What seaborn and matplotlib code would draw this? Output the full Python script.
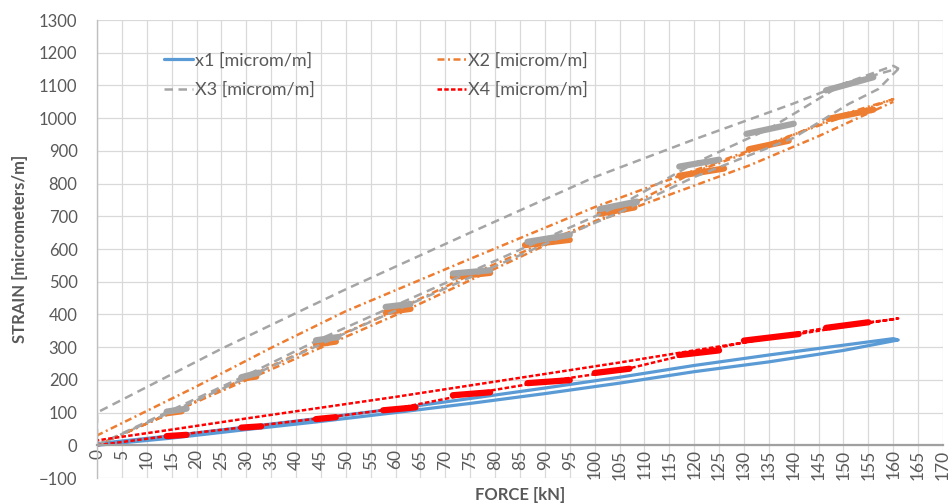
import numpy as np
import pandas as pd
import seaborn as sns
from matplotlib import pyplot as plt

# ---- data ----
series_names = ['x1 [microm/m]', 'X2 [microm/m]', 'X3 [microm/m]', 'X4 [microm/m]']

# x1: loading then unloading loop
x1_force = [0, 15, 30, 45, 60, 75, 90, 105, 120, 135, 150, 161,
            160, 150, 135, 120, 105, 90, 75, 60, 45, 30, 15, 0]
x1_strain = [0, 22, 48, 73, 100, 128, 158, 190, 225, 255, 290, 322,
             326, 306, 276, 244, 208, 175, 143, 112, 83, 56, 29, 5]

# X2: stepwise loading, unloading, fast reload
x2_force = [0, 15, 30, 45, 60, 75, 90, 105, 120, 135, 150, 160,
            140, 120, 100, 75, 50, 35, 20, 10, 0,
            0, 60, 100, 131, 145, 160]
x2_strain = [0, 100, 207, 312, 412, 521, 620, 717, 835, 918, 1012, 1058,
             950, 840, 728, 570, 410, 298, 180, 105, 30,
             0, 398, 682, 855, 945, 1050]

# X3
x3_force = [0, 15, 30, 45, 60, 75, 90, 105, 120, 135, 150, 160,
            161, 150, 140, 120, 100, 75, 50, 25, 0,
            0, 60, 90, 105, 120, 140, 151, 157, 161]
x3_strain = [0, 108, 214, 326, 428, 530, 632, 733, 862, 967, 1105, 1160,
             1152, 1105, 1045, 935, 820, 650, 477, 295, 100,
             0, 412, 615, 712, 820, 940, 1043, 1089, 1150]

# X4
x4_force = [0, 15, 30, 45, 60, 75, 90, 105, 120, 135, 150, 160,
            161, 150, 135, 120, 105, 90, 75, 60, 45, 30, 15, 0]
x4_strain = [0, 30, 56, 83, 112, 157, 195, 228, 283, 330, 367, 385,
             388, 362, 326, 290, 253, 218, 183, 148, 115, 82, 48, 15]

# scatter clouds while the load is held (start/end of each cloud)
x2_hold_f0 = [14, 29, 44, 58, 71.5, 86, 101, 117, 131, 147]
x2_hold_f1 = [17, 32, 48, 63, 79, 95, 108, 126, 139, 156]
x2_hold_s0 = [98, 204, 308, 407, 515, 612, 708, 824, 905, 998]
x2_hold_s1 = [104, 210, 317, 417, 527, 628, 727, 846, 931, 1026]

x3_hold_f0 = [14, 29, 44, 58, 71.5, 86.5, 101, 117, 130.5, 146.5]
x3_hold_f1 = [18, 32.5, 48.5, 63, 79, 95, 108.5, 125, 140, 156]
x3_hold_s0 = [103, 208, 321, 423, 525, 622, 722, 852, 952, 1085]
x3_hold_s1 = [112, 222, 331, 432, 535, 643, 745, 873, 983, 1125]

x4_hold_f0 = [14, 29, 44, 57.5, 71.5, 86.5, 100, 117, 130, 146.5]
x4_hold_f1 = [18, 33, 48, 64, 79, 95, 107, 125, 141, 155]
x4_hold_s0 = [28, 54, 80, 107, 153, 190, 221, 276, 320, 359]
x4_hold_s1 = [32, 58, 86, 116, 162, 199, 234, 290, 340, 376]

x_ticks = list(range(0, 171, 5))
y_ticks = list(range(-100, 1301, 100))

colors = {series_names[0]: '#5B9BD5', series_names[1]: '#ED7D31',
          series_names[2]: '#A5A5A5', series_names[3]: '#FF0000'}
dashes = {series_names[0]: '', series_names[1]: (2.8, 1.4, 0.8, 1.4),
          series_names[2]: (3.4, 2.2), series_names[3]: (1.8, 0.9)}
widths = {series_names[0]: 2.3, series_names[1]: 1.8,
          series_names[2]: 1.8, series_names[3]: 1.8}

# ---- build tables ----
frames = []
for name, f, s in zip(series_names, [x1_force, x2_force, x3_force, x4_force],
                      [x1_strain, x2_strain, x3_strain, x4_strain]):
    frames.append(pd.DataFrame({'force': f, 'strain': s, 'series': name}))
df = pd.concat(frames, ignore_index=True)

blob_frames = []
holds = {series_names[1]: (x2_hold_f0, x2_hold_f1, x2_hold_s0, x2_hold_s1),
         series_names[2]: (x3_hold_f0, x3_hold_f1, x3_hold_s0, x3_hold_s1),
         series_names[3]: (x4_hold_f0, x4_hold_f1, x4_hold_s0, x4_hold_s1)}
for name, (f0, f1, s0, s1) in holds.items():
    for i in range(len(f0)):
        blob_frames.append(pd.DataFrame({'force': [f0[i], f1[i]], 'strain': [s0[i], s1[i]],
                                         'series': name, 'blob': f'{name}_{i}'}))
blobs = pd.concat(blob_frames, ignore_index=True)

# ---- plot ----
sns.set_style('white')
plt.rcParams['font.family'] = ['Lato', 'DejaVu Sans']

fig = plt.figure(figsize=(9.53, 5.03), dpi=100)
ax = fig.add_axes([0.1018, 0.0497, 0.8877, 0.9105])

txt = '#595959'
grid_c = '#D9D9D9'

# horizontal axis crosses at 0 (set before styling ticks, it resets them)
ax.spines['bottom'].set_position(('data', 0))

for i, name in enumerate(series_names):
    sub = df[df['series'] == name]
    sns.lineplot(data=sub, x='force', y='strain', sort=False, estimator=None,
                 color=colors[name], linewidth=widths[name], dashes=False, label=name, ax=ax)
    if dashes[name]:
        ax.lines[-1].set_dashes(dashes[name])
    if name in holds:
        sub_b = blobs[blobs['series'] == name]
        sns.lineplot(data=sub_b, x='force', y='strain', units='blob', estimator=None,
                     sort=False, color=colors[name], linewidth=4.5, legend=False, ax=ax,
                     solid_capstyle='round')

ax.set_xlim(0, 170)
ax.set_ylim(-100, 1300)
ax.set_xticks(x_ticks)
ax.set_yticks(y_ticks)
ax.grid(True, color=grid_c, linewidth=0.9)
ax.set_axisbelow(True)

for side in ['top', 'right']:
    ax.spines[side].set_visible(False)
ax.spines['left'].set_color('#BFBFBF')
ax.spines['left'].set_linewidth(1.0)
ax.spines['bottom'].set_color('#A0A0A0')
ax.spines['bottom'].set_linewidth(1.6)

ax.tick_params(axis='y', length=0, pad=14, labelsize=12, labelcolor=txt)
ax.tick_params(axis='x', length=0, pad=3, labelsize=12.5, labelcolor=txt, labelrotation=90)

ax.set_xlabel('FORCE [kN]', fontsize=12, fontweight='bold', color=txt, labelpad=5)
ax.set_ylabel('STRAIN [micrometers/m]', fontsize=12, fontweight='bold', color=txt, labelpad=8)

handles, labels = ax.get_legend_handles_labels()
order = [0, 2, 1, 3]
leg = ax.legend([handles[i] for i in order], [labels[i] for i in order], ncol=2,
                loc='upper left', bbox_to_anchor=(0.06, 0.965), frameon=False,
                fontsize=13, handlelength=1.6, handletextpad=0.1,
                columnspacing=6.8, labelspacing=0.75)
for t in leg.get_texts():
    t.set_color(txt)

fig.savefig('out.png', dpi=100)
